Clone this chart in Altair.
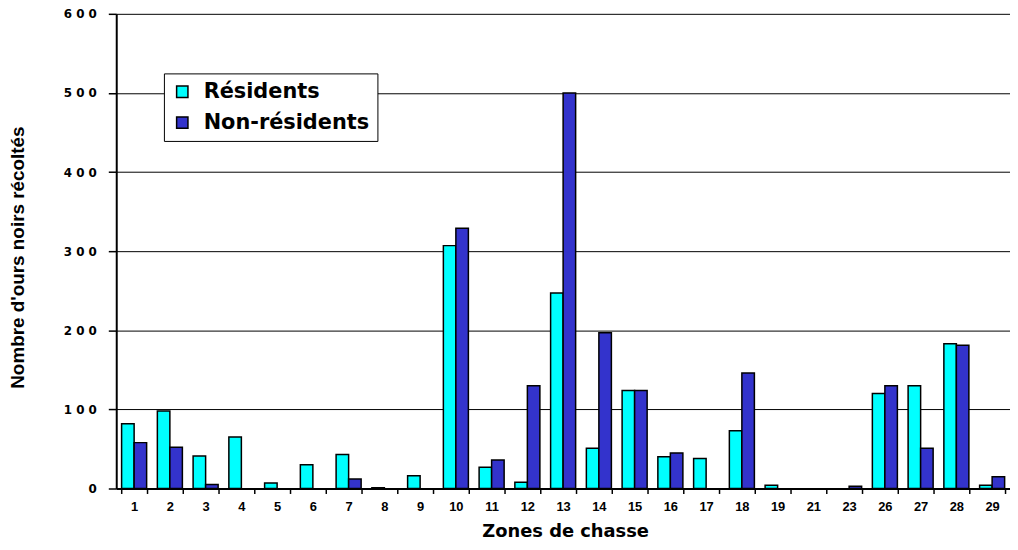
import altair as alt
import pandas as pd

zones = ["1", "2", "3", "4", "5", "6", "7", "8", "9", "10", "11", "12", "13",
         "14", "15", "16", "17", "18", "19", "21", "23", "26", "27", "28", "29"]
residents = [82, 98, 41, 65, 7, 30, 43, 1, 16, 307, 27, 8, 247,
             51, 124, 40, 38, 73, 4, 0, 0, 120, 130, 183, 4]
non_residents = [58, 52, 5, 0, 0, 0, 12, 0, 0, 329, 36, 130, 500,
                 197, 124, 45, 0, 146, 0, 0, 3, 130, 51, 181, 15]
series = ["Résidents", "Non-résidents"]
colors = ["#00FFFF", "#3333CC"]

rows = []
for z, r, n in zip(zones, residents, non_residents):
    rows.append({"zone": z, "series": series[0], "value": r})
    rows.append({"zone": z, "series": series[1], "value": n})
df = pd.DataFrame(rows)
df = df[df["value"] > 0]

spaced = "join(split(datum.label, ''), ' ')"

chart = alt.Chart(df).mark_bar(stroke="black", strokeWidth=1.5).encode(
    x=alt.X("zone:N", sort=zones,
            scale=alt.Scale(domain=zones, paddingInner=0.3, paddingOuter=0.15),
            axis=alt.Axis(title="Zones de chasse", labelAngle=0, tickBand="extent",
                          labelFont="Liberation Sans", labelFontWeight="bold",
                          labelFontSize=13, labelColor="black", labelPadding=7,
                          tickSize=5, tickWidth=1.5, tickColor="black",
                          domainColor="black", domainWidth=2,
                          titleFont="DejaVu Sans", titleFontWeight="bold", titleFontSize=18,
                          titleColor="black", titleX=452, titleY=48,
                          titleBaseline="alphabetic", titleAlign="center")),
    xOffset=alt.XOffset("series:N", sort=series,
                        scale=alt.Scale(domain=series, paddingInner=0, paddingOuter=0)),
    y=alt.Y("value:Q", scale=alt.Scale(domain=[0, 600], nice=False),
            axis=alt.Axis(title="Nombre d'ours noirs récoltés", values=[0, 100, 200, 300, 400, 500, 600],
                          labelExpr=spaced, labelFont="DejaVu Sans", labelFontWeight="bold",
                          labelFontSize=12, labelColor="black", labelPadding=12,
                          tickSize=8, tickWidth=1.5, tickColor="black",
                          domainColor="black", domainWidth=2,
                          grid=True, gridColor="black", gridWidth=1,
                          titleFont="Liberation Sans", titleFontWeight="bold",
                          titleFontSize=19, titleColor="black", titleAngle=270,
                          titleX=-99, titleY=245, titleAlign="center", titleBaseline="middle")),
    color=alt.Color("series:N", sort=series,
                    scale=alt.Scale(domain=series, range=colors),
                    legend=alt.Legend(title=None, orient="none", legendX=48, legendY=60,
                                      fillColor="white", strokeColor="black", padding=8,
                                      symbolType="square", symbolSize=130,
                                      symbolStrokeColor="black", symbolStrokeWidth=1.5,
                                      symbolOpacity=1,
                                      labelFont="DejaVu Sans", labelFontWeight="bold",
                                      labelFontSize=21, labelColor="black", labelLimit=400,
                                      labelOffset=11, rowPadding=9)),
).properties(
    width=900, height=478,
    padding={"left": 109, "top": 4, "right": 0, "bottom": 52},
    autosize=alt.AutoSizeParams(type="none"),
    background="white",
).configure_view(stroke=None)

chart.save("out.html", embed_options={"renderer": "svg", "actions": False})
